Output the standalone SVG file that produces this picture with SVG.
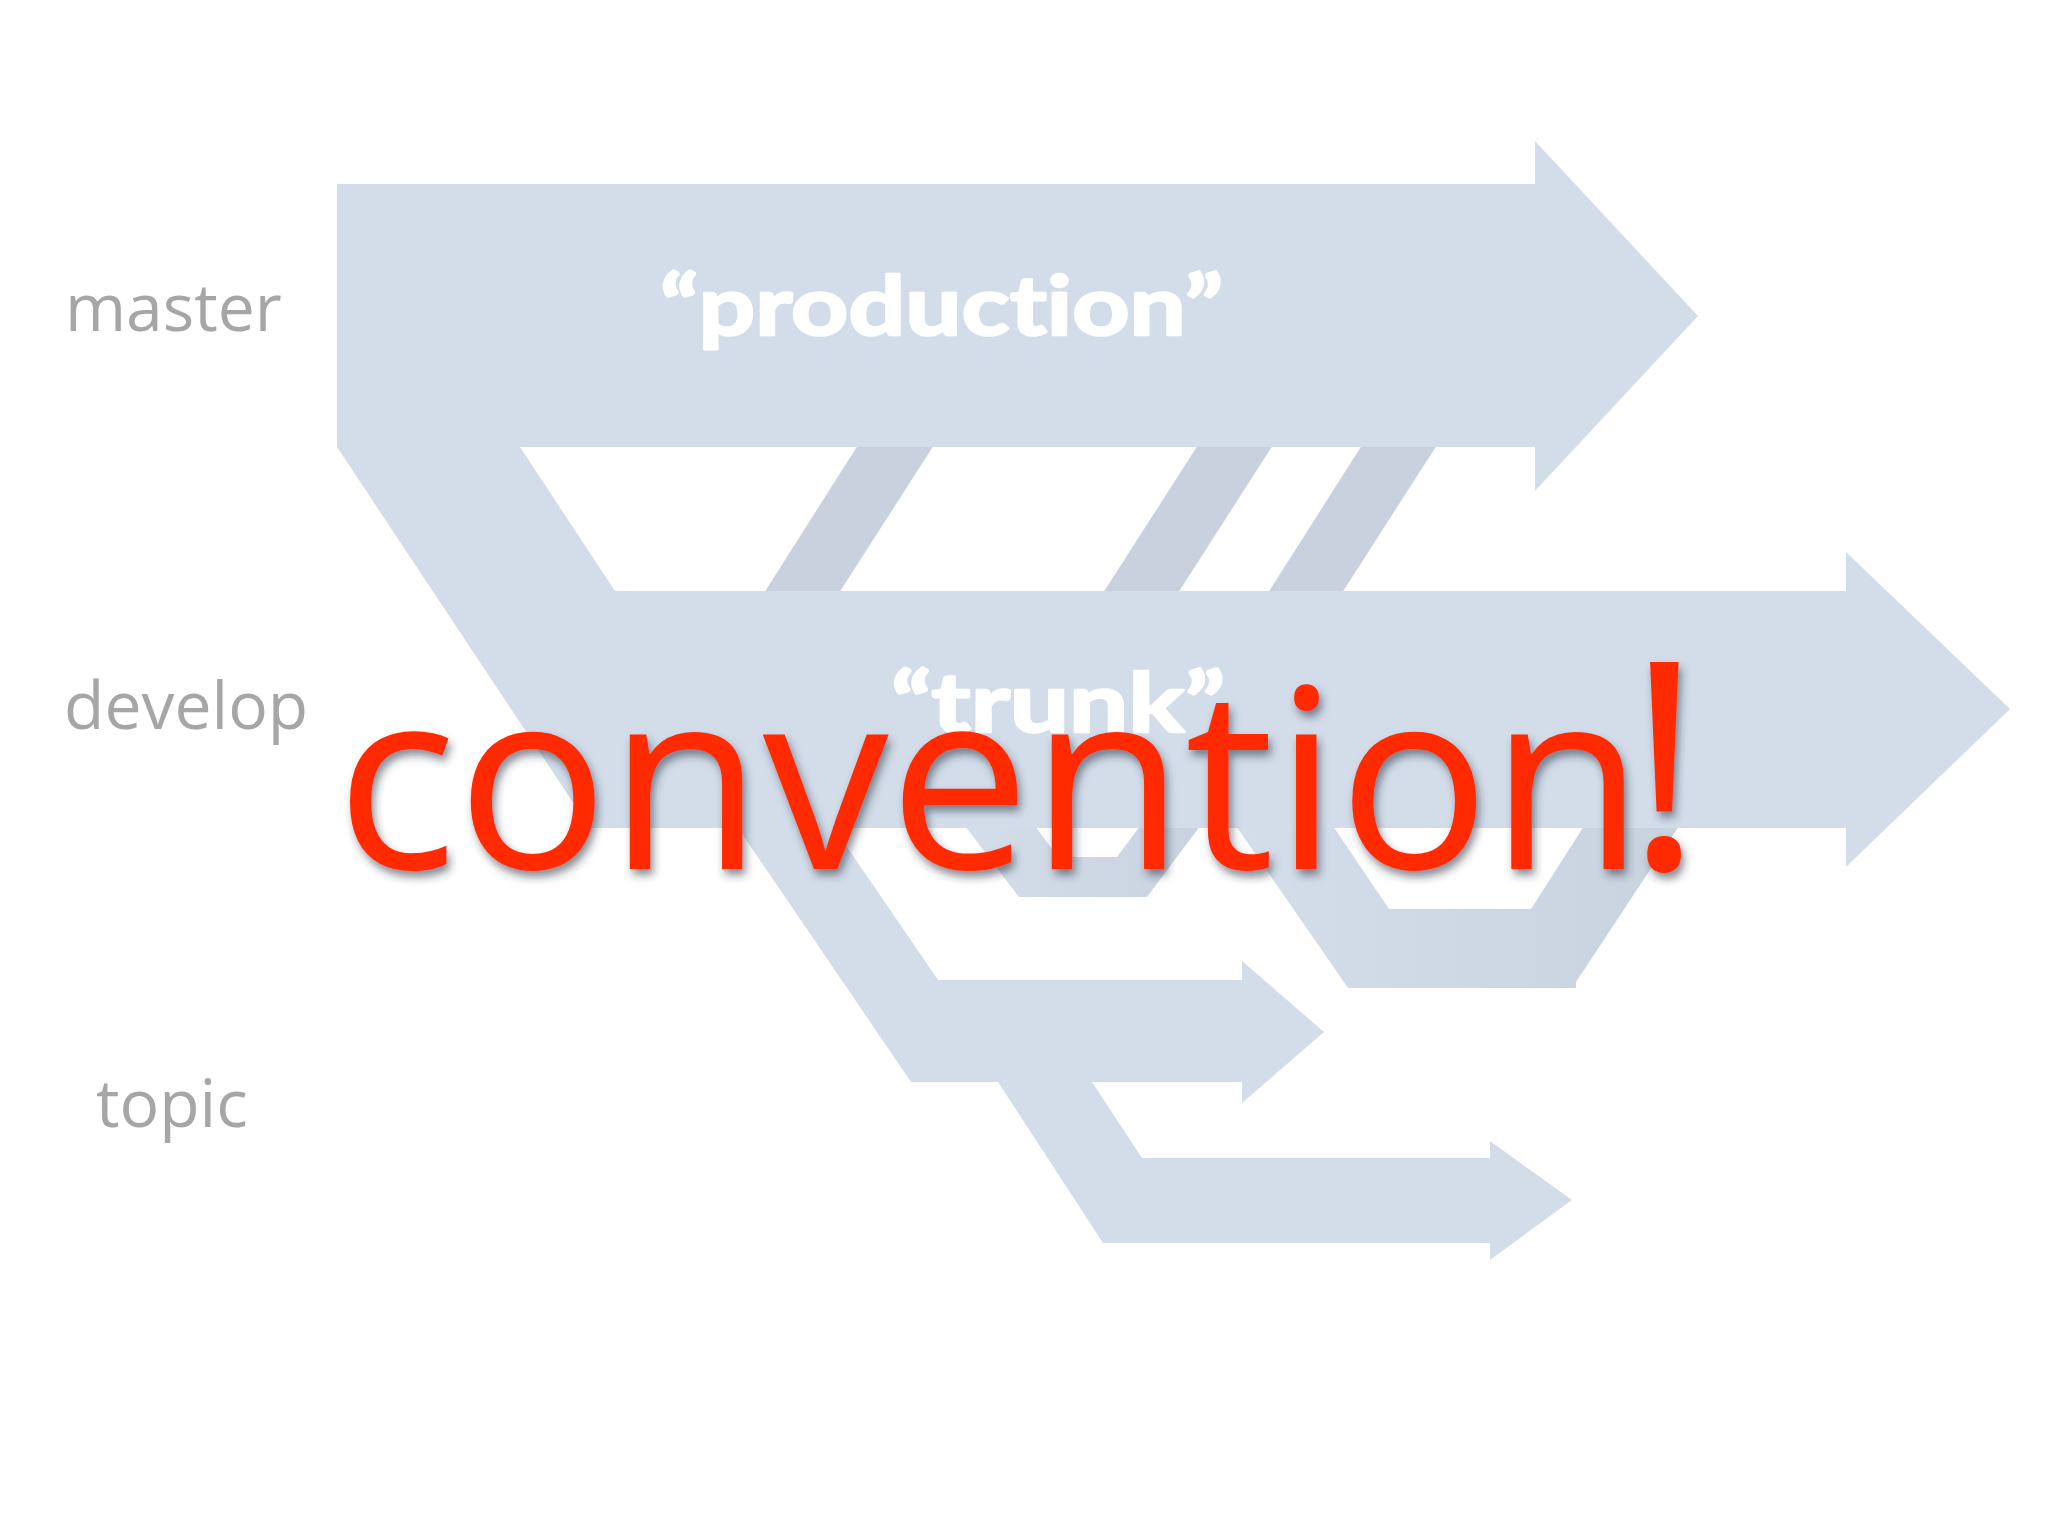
<svg xmlns="http://www.w3.org/2000/svg" width="2048" height="1536" viewBox="0 0 2048 1536">
  <defs>
    <linearGradient id="gU" x1="0" y1="0" x2="1" y2="0">
      <stop offset="0" stop-color="#d4deea"/>
      <stop offset="1" stop-color="#c9d2df"/>
    </linearGradient>
    <filter id="shadow" x="-5%" y="-10%" width="110%" height="130%">
      <feDropShadow dx="3" dy="6" stdDeviation="4" flood-color="#2a3040" flood-opacity="0.55"/>
    </filter>
    <style>
      .flow { fill: #d3dde9; }
      .merge { fill: #c8d1dd; }
      .loop { fill: url(#gU); fill-rule: evenodd; }
      .lane { font-family: "Open Sans", "DejaVu Sans", sans-serif; font-size: 66px; fill: #a6a6a6; }
      .tag { font-family: Lato, "Open Sans", sans-serif; font-weight: 700; font-size: 82px; fill: #ffffff; stroke: #ffffff; stroke-width: 2.5px; stroke-linejoin: round; font-variant-ligatures: none; }
      .big { font-family: "Open Sans", "DejaVu Sans", sans-serif; font-size: 252px; fill: #ff2a00; }
    </style>
  </defs>
  <rect width="2048" height="1536" fill="#ffffff"/>

  <g id="connectors">
    <polygon class="merge" points="858,445 934,445 839,593 764,593"/>
    <polygon class="merge" points="1198,445 1273,445 1178,593 1103,593"/>
    <polygon class="merge" points="1362,445 1437,445 1342,593 1268,593"/>
    <path class="loop" d="M965,826 L1019,897 L1147,897 L1200,826 Z M1035,826 L1058,857 L1117,857 L1140,826 Z"/>
    <path class="loop" d="M1236,826 L1348,988 L1576,988 L1576,982 L1679,826 Z M1333,826 L1389,909 L1531,909 L1584,826 Z"/>
  </g>

  <g id="flow">
    <polygon class="flow" points="337,184 1535,184 1535,141 1698,316 1535,491 1535,447 520,447 615,591 1846,591 1846,552 2010,709 1846,867 1846,828 834,828 938,980 1242,980 1242,961 1324,1032 1242,1103 1242,1082 1092,1082 1142,1158 1490,1158 1490,1141 1572,1200 1490,1260 1490,1243 1103,1243 998,1082 911,1082 738,828 590,828 337,447"/>
  </g>

  <g id="master">
    <text class="lane" x="65" y="331">master</text>
    <text class="tag" x="660" y="335" textLength="563" lengthAdjust="spacingAndGlyphs">“production”</text>
  </g>
  <g id="develop">
    <text class="lane" x="64" y="729">develop</text>
    <text class="tag" x="891" y="732" textLength="334" lengthAdjust="spacingAndGlyphs" font-size="78">“trunk”</text>
  </g>
  <g id="topic">
    <text class="lane" x="96" y="1127">topic</text>
  </g>

  <g id="convention" filter="url(#shadow)">
    <text class="big" x="336" y="869">convention<tspan x="1626" font-size="290">!</tspan></text>
  </g>
</svg>
